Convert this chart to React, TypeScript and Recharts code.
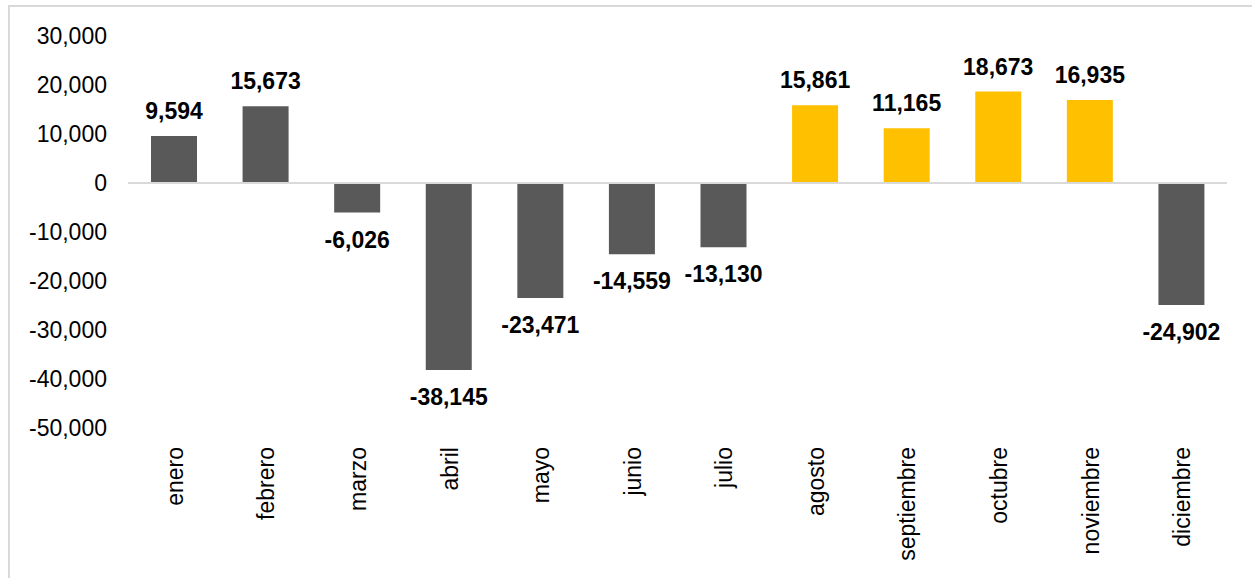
import React from 'react';
import {BarChart, Bar, XAxis, YAxis, ReferenceLine, LabelList, Cell} from 'recharts';

const months = ['enero', 'febrero', 'marzo', 'abril', 'mayo', 'junio', 'julio', 'agosto', 'septiembre', 'octubre', 'noviembre', 'diciembre'];
const values = [9594, 15673, -6026, -38145, -23471, -14559, -13130, 15861, 11165, 18673, 16935, -24902];
const highlighted = ['agosto', 'septiembre', 'octubre', 'noviembre'];
const yTicks = [30000, 20000, 10000, 0, -10000, -20000, -30000, -40000, -50000];

const data = months.map((m, i) => ({name: m, value: values[i]}));

const FONT = '"Liberation Sans", Arial, sans-serif';
const fmt = (v: number) => v.toLocaleString('en-US');

const MonthTick = (props: any) => {
    const {x, y, payload} = props;
    return (
        <text
            x={x}
            y={y}
            dy={9}
            transform={`rotate(-90, ${x}, ${y})`}
            textAnchor="end"
            fontFamily={FONT}
            fontSize={23}
            fill="#000"
        >
            {payload.value}
        </text>
    );
};

const ValueLabel = (props: any) => {
    const {x, y, width, height, value} = props;
    const top = Math.min(y, y + height);
    const bottom = Math.max(y, y + height);
    const cx = x + width / 2;
    const ty = value >= 0 ? top - 17 : bottom + 35;
    return (
        <text x={cx} y={ty} textAnchor="middle" fontFamily={FONT} fontSize={23} fontWeight="bold" fill="#000">
            {fmt(value)}
        </text>
    );
};

const App = () => {
    return (
        <div style={{position: 'absolute', left: 0, top: 0, width: 1252, height: 578, overflow: 'hidden'}}>
            <div style={{
                position: 'absolute', left: 8, top: 5, width: 1244, height: 573,
                borderTop: '2px solid #d9d9d9', borderLeft: '2px solid #d9d9d9', boxSizing: 'border-box'
            }}/>
            <div style={{position: 'absolute', left: 0, top: 0}}>
                <BarChart
                    width={1252}
                    height={578}
                    data={data}
                    margin={{top: 36, right: 25, bottom: 0, left: 0}}
                    barSize={46}
                >
                    <XAxis
                        dataKey="name"
                        axisLine={false}
                        tickLine={false}
                        tickSize={0}
                        tickMargin={19}
                        height={150}
                        interval={0}
                        tick={<MonthTick/>}
                    />
                    <YAxis
                        width={128}
                        domain={[-50000, 30000]}
                        ticks={yTicks}
                        axisLine={false}
                        tickLine={false}
                        tickSize={0}
                        tickMargin={21}
                        tickFormatter={fmt}
                        tick={{fill: '#000', fontSize: 23, fontFamily: FONT}}
                    />
                    <ReferenceLine y={0} stroke="#d9d9d9" strokeWidth={2}/>
                    <Bar dataKey="value" isAnimationActive={false}>
                        {data.map(d => (
                            <Cell key={d.name} fill={highlighted.includes(d.name) ? '#FFC000' : '#595959'}/>
                        ))}
                        <LabelList dataKey="value" content={<ValueLabel/>}/>
                    </Bar>
                </BarChart>
            </div>
        </div>
    );
};

export default App;
